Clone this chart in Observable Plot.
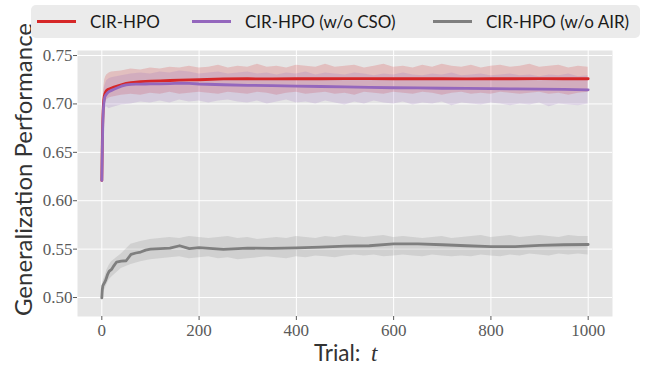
<!DOCTYPE html>
<html><head><meta charset="utf-8">
<script src="https://cdn.jsdelivr.net/npm/d3@7"></script>
<script src="https://cdn.jsdelivr.net/npm/@observablehq/plot@0.6"></script>
<style>
body{margin:0;background:#fff}
#legend{position:relative;width:645px;height:44px}
#legend .box{position:absolute;left:31px;top:5px;width:609px;height:33px;background:#ebebeb;border-radius:5px}
.item{position:absolute;top:0;height:33px;display:flex;align-items:center;font-family:Lato;font-size:17px;color:#1a1a1a;white-space:nowrap}
.swatch{display:inline-block;width:39px;height:3px;margin-right:14px}
</style></head><body>
<div id="legend"><div class="box"></div></div>
<div id="chart"></div>
<script>
const seriesNames = ["CIR-HPO", "CIR-HPO (w/o CSO)", "CIR-HPO (w/o AIR)"];
const seriesColors = ["#d62728", "#9467bd", "#7f7f7f"];

const trials = [0,1,2,3,4,5,6,8,10,12,15,20,25,30,40,50,60,70,80,90,100,120,140,160,180,200,250,300,350,400,450,500,550,600,650,700,750,800,850,900,950,1000];
const meanFull = [0.621,0.660,0.684,0.697,0.704,0.708,0.710,0.7125,0.714,0.7148,0.7155,0.7165,0.7175,0.7183,0.7198,0.7212,0.722,0.7225,0.723,0.7233,0.7235,0.7238,0.7242,0.7246,0.7248,0.725,0.7258,0.726,0.7259,0.726,0.726,0.7261,0.7262,0.726,0.726,0.726,0.7258,0.726,0.726,0.7261,0.726,0.726];
const meanNoCSO = [0.621,0.652,0.679,0.693,0.700,0.704,0.707,0.709,0.7104,0.7115,0.7128,0.714,0.7152,0.7162,0.7183,0.7197,0.7202,0.7204,0.7205,0.7206,0.7207,0.7208,0.721,0.7214,0.7212,0.7206,0.7198,0.7192,0.719,0.7185,0.718,0.7176,0.7172,0.7167,0.7165,0.7162,0.716,0.7158,0.7155,0.7152,0.715,0.7146];
const meanNoAIR = [0.4997,0.508,0.512,0.513,0.514,0.515,0.516,0.518,0.521,0.524,0.527,0.529,0.533,0.5365,0.5375,0.538,0.5445,0.546,0.547,0.549,0.550,0.5505,0.551,0.5535,0.5505,0.5515,0.5498,0.551,0.5508,0.5512,0.552,0.553,0.5535,0.5555,0.5555,0.5545,0.5535,0.5525,0.5525,0.5538,0.5545,0.5548];

const bandTrials = [0,2,4,6,8,10,15,20,40,60,80,100,120,140,160,180,200,220,240,260,280,300,320,340,360,380,400,420,440,460,480,500,520,540,560,580,600,620,640,660,680,700,720,740,760,780,800,820,840,860,880,900,920,940,960,980,1000];
const upperFull = [0.623,0.700,0.716,0.725,0.728,0.730,0.732,
 0.733,0.734,0.736,0.735,0.737,0.736,0.738,0.737,0.739,0.737,
 0.738,0.740,0.737,0.739,0.738,0.741,0.738,0.739,0.737,0.740,
 0.739,0.738,0.741,0.738,0.739,0.740,0.737,0.739,0.741,0.738,
 0.739,0.737,0.740,0.738,0.741,0.739,0.738,0.740,0.737,0.739,
 0.740,0.738,0.739,0.741,0.738,0.739,0.740,0.737,0.739,0.738];
const lowerFull = [0.619,0.672,0.690,0.698,0.702,0.704,0.706,
 0.707,0.709,0.710,0.709,0.711,0.710,0.712,0.710,0.711,0.712,
 0.711,0.710,0.712,0.711,0.710,0.712,0.711,0.709,0.711,0.712,
 0.710,0.711,0.712,0.710,0.711,0.709,0.712,0.711,0.710,0.712,
 0.711,0.710,0.712,0.711,0.709,0.711,0.712,0.710,0.711,0.710,
 0.712,0.711,0.710,0.711,0.712,0.710,0.711,0.709,0.711,0.712];
const upperNoCSO = [0.623,0.695,0.712,0.718,0.721,0.724,0.726,
 0.727,0.729,0.731,0.732,0.731,0.733,0.732,0.734,0.733,0.731,
 0.732,0.733,0.731,0.732,0.733,0.731,0.732,0.730,0.732,0.731,
 0.733,0.730,0.732,0.731,0.730,0.732,0.731,0.729,0.731,0.730,
 0.732,0.730,0.729,0.731,0.730,0.732,0.729,0.730,0.731,0.729,
 0.730,0.731,0.729,0.730,0.728,0.730,0.729,0.731,0.728,0.729];
const lowerNoCSO = [0.619,0.665,0.688,0.694,0.696,0.697,0.695,
 0.696,0.699,0.700,0.702,0.701,0.703,0.701,0.704,0.702,0.703,
 0.701,0.703,0.704,0.702,0.701,0.703,0.700,0.702,0.704,0.701,
 0.702,0.700,0.703,0.701,0.699,0.702,0.700,0.703,0.701,0.700,
 0.702,0.699,0.701,0.700,0.702,0.698,0.701,0.700,0.699,0.701,
 0.700,0.698,0.700,0.699,0.701,0.697,0.700,0.699,0.698,0.700];
const upperNoAIR = [0.501,0.516,0.519,0.521,0.524,0.528,0.533,
 0.537,0.545,0.555,0.558,0.560,0.561,0.562,0.561,0.563,0.562,
 0.561,0.562,0.563,0.561,0.562,0.560,0.561,0.562,0.561,0.563,
 0.562,0.561,0.563,0.562,0.564,0.563,0.562,0.563,0.564,0.562,
 0.563,0.562,0.561,0.562,0.563,0.561,0.562,0.563,0.564,0.562,
 0.563,0.564,0.562,0.563,0.564,0.563,0.562,0.564,0.563,0.563];
const lowerNoAIR = [0.498,0.503,0.506,0.508,0.510,0.513,0.518,
 0.521,0.530,0.534,0.537,0.539,0.540,0.541,0.542,0.540,0.541,
 0.542,0.540,0.541,0.539,0.540,0.541,0.542,0.541,0.540,0.542,
 0.541,0.543,0.542,0.541,0.543,0.544,0.543,0.544,0.542,0.543,
 0.544,0.543,0.542,0.544,0.543,0.542,0.543,0.542,0.544,0.543,
 0.542,0.544,0.543,0.545,0.544,0.543,0.545,0.544,0.545,0.544];

const xTicks = [0, 200, 400, 600, 800, 1000];
const yTicks = [0.50, 0.55, 0.60, 0.65, 0.70, 0.75];
const xTitle = "Trial:";
const xTitleVar = "t";
const yTitle = "Generalization Performance";

// legend
const legendLeft = [6, 161, 402];
const box = document.querySelector("#legend .box");
seriesNames.forEach((name, i) => {
  const it = document.createElement("div");
  it.className = "item";
  it.style.left = legendLeft[i] + "px";
  const sw = document.createElement("span");
  sw.className = "swatch";
  sw.style.background = seriesColors[i];
  it.appendChild(sw);
  it.appendChild(document.createTextNode(name));
  box.appendChild(it);
});

const means = [meanFull, meanNoCSO, meanNoAIR];
const uppers = [upperFull, upperNoCSO, upperNoAIR];
const lowers = [lowerFull, lowerNoCSO, lowerNoAIR];
const lineData = seriesNames.flatMap((s, i) => trials.map((t, j) => ({series: s, t, v: means[i][j]})));
const bandData = seriesNames.flatMap((s, i) => bandTrials.map((t, j) => ({series: s, t, lo: lowers[i][j], hi: uppers[i][j]})));

const color = {domain: seriesNames, range: seriesColors};

const chart = Plot.plot({
  width: 645,
  height: 323,
  marginTop: 6,
  marginBottom: 51,
  marginLeft: 77,
  marginRight: 33,
  x: {domain: [-50, 1050], label: null},
  y: {domain: [0.4804, 0.7552], label: null},
  color,
  style: {background: "transparent", overflow: "visible"},
  marks: [
    Plot.frame({fill: "#e5e5e5"}),
    Plot.gridX(xTicks, {stroke: "#ffffff", strokeOpacity: 1, strokeWidth: 1}),
    Plot.gridY(yTicks, {stroke: "#ffffff", strokeOpacity: 1, strokeWidth: 1}),
    Plot.areaY(bandData, {x: "t", y1: "lo", y2: "hi", z: "series", fill: "series", fillOpacity: 0.2}),
    Plot.lineY(lineData, {x: "t", y: "v", z: "series", stroke: "series", strokeWidth: 2.8}),
    Plot.axisX(xTicks, {tickSize: 4, tickPadding: 3, fontSize: 17, fontFamily: "Liberation Serif", color: "#5a5a5a", tickFormat: d => String(d)}),
    Plot.axisY(yTicks, {tickSize: 4, tickPadding: 1, fontSize: 17, fontFamily: "Liberation Serif", color: "#5a5a5a", tickFormat: d3.format(".2f")}),
    Plot.text([yTitle], {frameAnchor: "top-left", text: d => d, rotate: -90, dx: -53, dy: 119, textAnchor: "middle", lineAnchor: "middle", fontSize: 24, fontFamily: "Lato", fill: "#333"}),
    Plot.text([xTitle], {frameAnchor: "bottom", text: d => d, dx: 15.5, dy: 44, textAnchor: "end", lineAnchor: "bottom", fontSize: 22.5, fontFamily: "Lato", fill: "#333"}),
    Plot.text([xTitleVar], {frameAnchor: "bottom", text: d => d, dx: 26, dy: 44, textAnchor: "start", lineAnchor: "bottom", fontSize: 23, fontFamily: "Liberation Serif", fontStyle: "italic", fill: "#333"})
  ]
});
document.getElementById("chart").appendChild(chart);
</script>
</body></html>
